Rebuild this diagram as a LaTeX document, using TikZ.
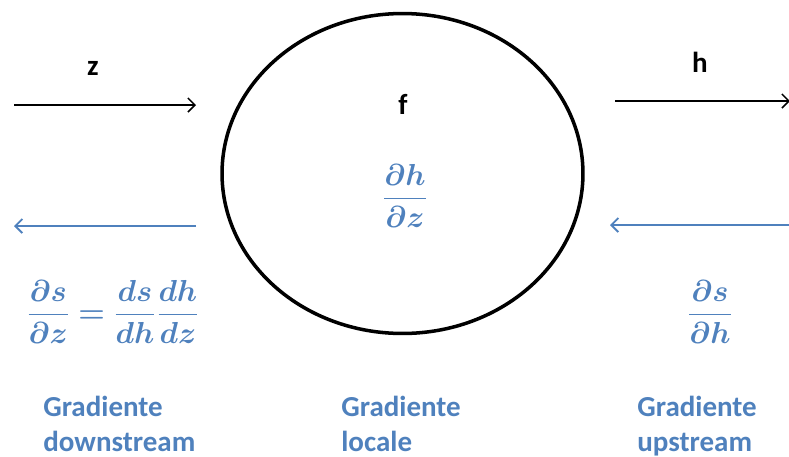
\documentclass[tikz,border=0pt]{standalone}
\usepackage{fontspec}
\setmainfont{Carlito}
\usepackage{amsmath}
\usepackage{bm}
\usetikzlibrary{arrows.meta,positioning,shapes.geometric}
\definecolor{gradblue}{RGB}{79,129,189}

\begin{document}
\begin{tikzpicture}[x=0.02cm,y=-0.02cm]
\tikzset{>={Straight Barb[length=4pt,width=8pt]},
  lbl/.style={font=\bfseries\fontsize{16.5}{20}\selectfont, inner sep=0pt},
  grad/.style={lbl, text=gradblue, align=left, anchor=north west},
  deriv/.style={text=gradblue, inner sep=0pt, font=\fontsize{16.5}{20}\selectfont},
  fwd/.style={->, line width=0.9pt},
  bwd/.style={->, line width=1.1pt, gradblue}}
  \useasboundingbox (0,0) rectangle (789,457);

  \node[draw, ellipse, line width=2pt, minimum width=7.22cm, minimum height=6.4cm] (f) at (402.5,173.5) {};
  \node[lbl] (fname) at (403,104) {f};
  \node[deriv] (local) at (405,196) {$\dfrac{\bm{\partial h}}{\bm{\partial z}}$};

  % forward pass
  \coordinate (zL) at (14,105);  \coordinate (zR) at (196,105);
  \coordinate (hL) at (615,101); \coordinate (hR) at (790,101);
  \node[lbl] (zname) at (93,68) {z};
  \node[lbl] (hname) at (700,62) {h};
  \draw[fwd] (zL) -- (zR);
  \draw[fwd] (hL) -- (hR);

  % backward pass
  \coordinate (dzL) at (14,226);  \coordinate (dzR) at (196,226);
  \coordinate (dhL) at (610,225); \coordinate (dhR) at (790,225);
  \draw[bwd] (dzR) -- (dzL);
  \draw[bwd] (dhR) -- (dhL);

  \node[deriv] (down) at (113,312) {$\dfrac{\bm{\partial s}}{\bm{\partial z}}\bm{=}\dfrac{\bm{ds}}{\bm{dh}}\dfrac{\bm{dh}}{\bm{dz}}$};
  \node[deriv] (up) at (710,312) {$\dfrac{\bm{\partial s}}{\bm{\partial h}}$};

  \node[grad] (gdown) at (43,396) {Gradiente\\downstream};
  \node[grad] (glocal) at (341,396) {Gradiente\\locale};
  \node[grad] (gup) at (637,396) {Gradiente\\upstream};
\end{tikzpicture}
\end{document}
